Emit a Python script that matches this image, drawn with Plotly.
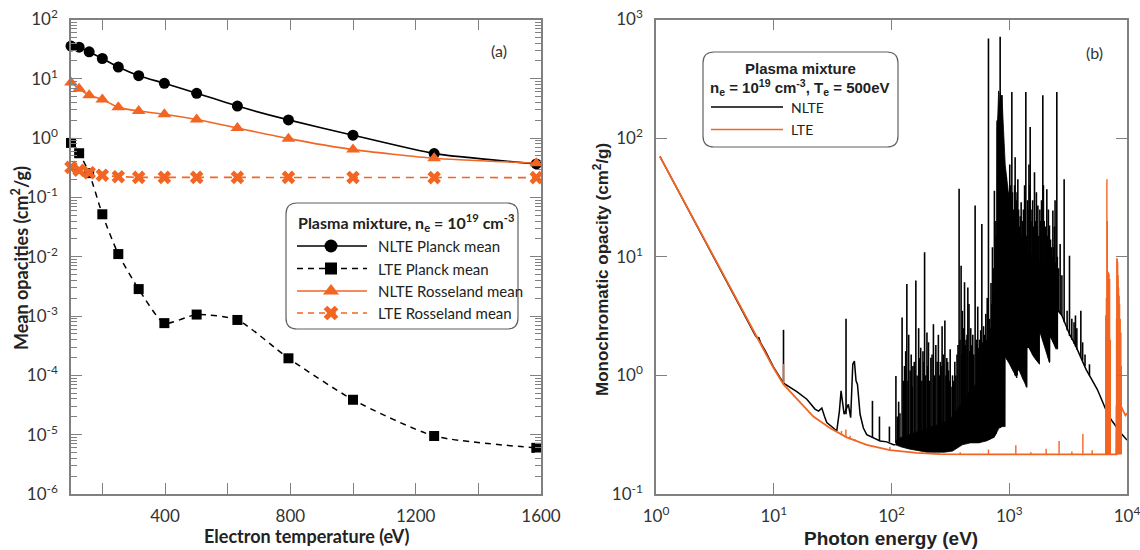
import plotly.graph_objects as go

# ---------------- panel (a): mean opacities vs electron temperature ----------------
T_e = [100, 126, 158, 200, 251, 316, 398, 501, 631, 794, 1000, 1259, 1585]
nlte_planck = [35.6, 34.2, 28.5, 22.0, 15.8, 11.3, 8.4, 5.7, 3.47, 2.03, 1.12, 0.548, 0.368]
lte_planck = [0.83, 0.556, 0.257, 0.052, 0.0111, 0.00285, 7.6e-4, 1.06e-3, 8.6e-4,
              1.94e-4, 3.88e-5, 9.5e-6, 6.0e-6]
nlte_rosseland = [8.7, 6.8, 5.3, 4.5, 3.3, 2.86, 2.53, 2.06, 1.48, 0.98, 0.64, 0.458, 0.378]
lte_rosseland = [0.321, 0.287, 0.261, 0.237, 0.224, 0.218, 0.218, 0.218, 0.218, 0.218,
                 0.217, 0.216, 0.216]

temp_ticks = [400, 800, 1200, 1600]
temp_minor_ticks = [200, 600, 1000, 1400]
mean_ticks = [1e-6, 1e-5, 1e-4, 1e-3, 1e-2, 1e-1, 1, 10, 100]
mean_labels = ["10<sup>-6</sup>", "10<sup>-5</sup>", "10<sup>-4</sup>", "10<sup>-3</sup>",
               "10<sup>-2</sup>", "10<sup>-1</sup>", "10<sup>0</sup>", "10<sup>1</sup>",
               "10<sup>2</sup>"]

# ---------------- panel (b): monochromatic opacity, Te = 500 eV ----------------
# LTE continuum
lte_E = [1.08, 1.6, 2.7, 4.54, 7.4, 9.93, 12.1, 15.7, 21.7, 30, 41.7, 61.6, 97, 164, 259,
         500, 1000, 2000, 4000, 8100, 8150, 8900, 9300, 9700, 10000]
lte_k = [70, 33.9, 12.8, 4.84, 1.95, 1.16, 0.84, 0.63, 0.45, 0.36, 0.30, 0.26, 0.234, 0.222,
         0.217, 0.216, 0.216, 0.216, 0.216, 0.216, 0.55, 0.55, 0.5, 0.46, 0.48]
# LTE lines
lte_line_E = [12.1, 37.6, 41.0, 44.5, 49.0, 97, 383, 666, 1137, 1525, 2058, 2650, 3404, 4220,
              5060,
              6600, 6680, 6750, 6800, 6870, 6950, 7030, 7120, 7220,
              8150, 8200, 8260, 8330, 8400, 8480, 8570, 8650, 8750, 8870, 8950]
lte_line_base = [0.84, 0.315, 0.30, 0.29, 0.28, 0.234, 0.216, 0.216, 0.216, 0.216, 0.216,
                 0.216, 0.216, 0.216, 0.216,
                 0.216, 0.216, 0.216, 0.216, 0.216, 0.216, 0.216, 0.216, 0.216,
                 0.216, 0.216, 0.216, 0.216, 0.216, 0.216, 0.216, 0.216, 0.216, 0.216, 0.216]
lte_line_top = [1.25, 0.34, 0.35, 0.31, 0.29, 0.25, 0.225, 0.237, 0.257, 0.225, 0.241,
                0.28, 0.228, 0.32, 0.234,
                3.2, 4.5, 45, 20, 7.5, 7.4, 7.2, 6.5, 2.0,
                3.0, 9.7, 9.6, 9.0, 7.0, 5.5, 4.7, 4.0, 3.0, 2.3, 1.2]

# NLTE continuum below the line forest
nlte_low_E = [1.08, 1.6, 2.7, 4.54, 7.0, 7.3, 7.45, 7.7, 8.5, 9.93, 12.1, 13.3, 15.7, 19.1,
              22.4, 24.0, 25.6, 27.0, 28.2, 32.1, 34.3, 36.1, 37.3, 38.6, 39.6, 43.0, 45.0,
              46.9, 48.4, 50.0, 51.4, 54.1, 57.7, 61.6, 70, 80, 91, 104, 108]
nlte_low_k = [70, 33.9, 12.8, 4.84, 2.15, 2.05, 2.1, 1.9, 1.6, 1.18, 0.86, 0.81, 0.73, 0.63,
              0.52, 0.5, 0.53, 0.45, 0.40, 0.36, 0.34, 0.50, 0.74, 0.57, 0.47, 0.57, 0.44,
              1.24, 1.32, 0.9, 0.84, 0.47, 0.36, 0.317, 0.297, 0.28, 0.275, 0.26, 0.26]
# NLTE continuum above the forest
nlte_high_E = [2570, 2800, 3000, 3300, 3600, 4000, 4500, 5000, 5600, 6200, 6800, 7500, 8200,
               9000, 10000]
nlte_high_k = [3.6, 3.2, 2.7, 2.15, 1.85, 1.46, 1.12, 0.93, 0.76, 0.6, 0.48, 0.41, 0.36,
               0.32, 0.285]
# densest part of the line forest: lower and upper envelopes
band_E = [108, 120, 140, 170, 200, 240, 280, 330, 400, 470, 550, 640, 700, 740, 770, 782,
          788, 800, 812, 825, 838, 852, 866, 880, 895, 910, 922, 924, 1000, 1100, 1161,
          1165, 1300, 1410, 1413, 1455, 1600, 1770, 1806, 1808, 2000, 2198, 2202, 2400,
          2502, 2506, 2570]
band_lo = [0.26, 0.25, 0.24, 0.23, 0.225, 0.225, 0.225, 0.23, 0.26, 0.27, 0.27, 0.28, 0.29,
           0.30, 0.32, 0.33, 0.34, 0.35, 0.355, 0.36, 0.36, 0.365, 0.37, 0.37, 0.37, 0.37,
           0.37, 1.46, 1.25, 1.05, 0.95, 1.2, 0.95, 0.79, 1.77, 1.75, 1.45, 1.28, 1.24, 2.37,
           1.7, 1.28, 2.15, 1.85, 1.66, 3.6, 3.6]
band_hi = [0.28, 0.3, 0.32, 0.34, 0.36, 0.38, 0.4, 0.45, 0.6, 0.75, 0.9, 1.1, 1.4, 2.0, 3.5,
           8, 120, 160, 250, 180, 240, 200, 230, 170, 140, 90, 60, 60, 30, 20, 16, 16, 13,
           12, 12, 11, 10, 9, 9, 9, 8, 7, 7, 6, 5.5, 5.5, 5]
# NLTE lines
nlte_line_E = [12.1, 41.1, 68.9, 79, 96, 109, 112, 115, 118, 123, 126, 129, 132, 135, 138,
               140, 144, 147, 150, 152, 156, 161, 165, 170, 173, 177, 181, 185, 188, 191,
               195, 200, 203, 206, 211, 216, 221, 227, 232, 238, 244, 250, 255, 260, 264,
               269, 275, 284, 290, 295, 300, 305, 310, 315, 320, 330, 337, 345, 352, 360,
               367, 375, 382, 390, 395, 400, 408, 417, 423, 430, 438, 445, 455, 462, 471,
               480, 490, 500, 513, 525, 540, 550, 560, 572, 585, 595, 605, 618, 632, 640,
               650, 660, 666, 680, 690, 700, 710, 720, 730, 740, 748, 755, 765, 770, 775,
               789, 837, 865, 930, 942, 950, 960, 970, 985, 995, 1010, 1020, 1035, 1052,
               1065, 1080, 1095, 1110, 1122, 1135, 1150, 1165, 1183, 1200, 1220, 1240, 1262,
               1280, 1300, 1320, 1350, 1365, 1383, 1400, 1430, 1440, 1470, 1490, 1506, 1530,
               1560, 1580, 1600, 1620, 1638, 1670, 1700, 1725, 1750, 1780, 1820, 1850, 1880,
               1900, 1928, 1950, 1980, 2020, 2050, 2085, 2110, 2150, 2196, 2240, 2280, 2320,
               2347, 2390, 2420, 2450, 2480, 2535, 2560, 2620, 2705, 2800, 2925, 3100, 3248,
               3400, 3550, 3650, 3750, 4055, 4200, 4400, 4800]
nlte_line_base = [0.86, 0.47, 0.30, 0.28, 0.275, 0.27, 0.26, 0.26, 0.26, 0.26, 0.25, 0.25,
                  0.25, 0.25, 0.25, 0.25, 0.245, 0.245, 0.24, 0.24, 0.24, 0.24, 0.235, 0.235,
                  0.235, 0.235, 0.23, 0.23, 0.23, 0.23, 0.23, 0.23, 0.23, 0.23, 0.23, 0.23,
                  0.23, 0.23, 0.23, 0.23, 0.23, 0.23, 0.23, 0.23, 0.23, 0.23, 0.23, 0.23,
                  0.23, 0.23, 0.23, 0.23, 0.23, 0.23, 0.23, 0.24, 0.24, 0.25, 0.25, 0.25,
                  0.26, 0.26, 0.26, 0.26, 0.27, 0.27, 0.27, 0.27, 0.27, 0.27, 0.27, 0.27,
                  0.27, 0.27, 0.27, 0.27, 0.27, 0.27, 0.27, 0.27, 0.27, 0.27, 0.27, 0.28,
                  0.28, 0.28, 0.28, 0.28, 0.28, 0.28, 0.29, 0.29, 0.29, 0.29, 0.29, 0.30,
                  0.30, 0.30, 0.30, 0.30, 0.31, 0.31, 0.32, 0.32, 0.33, 0.35, 0.36, 0.37,
                  1.4, 1.4, 1.4, 1.35, 1.35, 1.3, 1.3, 1.3, 1.25, 1.2, 1.15, 1.15, 1.1, 1.1,
                  1.05, 1.0, 1.0, 1.0, 1.0, 1.1, 1.1, 1.15, 1.1, 1.05, 1.0, 0.95, 0.92, 0.9,
                  0.88, 0.85, 0.8, 1.7, 1.7, 1.7, 1.68, 1.65, 1.6, 1.55, 1.5, 1.5, 1.47, 1.45,
                  1.4, 1.35, 1.33, 1.3, 1.27, 2.3, 2.3, 2.2, 2.1, 2.0, 2.0, 1.9, 1.8, 1.7,
                  1.6, 1.55, 1.4, 1.3, 2.1, 2.1, 2.0, 1.9, 1.85, 1.8, 1.75, 1.7, 1.7, 1.66,
                  3.4, 3.3, 3.2, 2.8, 2.4, 2.15, 2.0, 1.85, 1.75, 1.65, 1.42, 1.33, 1.2, 1.0]
nlte_line_top = [2.42, 3.0, 0.61, 0.45, 0.37, 0.99, 0.45, 0.6, 0.48, 3.07, 0.9, 1.2, 1.6,
                 5.9, 0.9, 2.2, 1.1, 1.5, 0.8, 1.2, 1.3, 6.3, 1.0, 2.5, 1.4, 1.71, 0.9, 1.6,
                 1.3, 10.9, 1.0, 2.3, 1.2, 1.9, 0.9, 1.41, 1.5, 2.7, 1.0, 1.8, 1.3, 2.2, 1.0,
                 1.3, 1.2, 2.6, 1.5, 2.9, 1.0, 1.4, 1.3, 1.1, 0.9, 1.66, 0.8, 1.0, 0.9, 1.3,
                 1.0, 1.5, 1.8, 37.4, 2.0, 8.4, 1.5, 3.5, 2.5, 6.1, 1.8, 2.0, 2.2, 5.5, 4.0,
                 1.6, 2.5, 1.8, 2.2, 1.5, 27, 2.0, 3.8, 1.7, 2.0, 2.4, 18.9, 1.9, 2.6, 2.2,
                 3.3, 2.0, 4.5, 2.8, 690, 3.0, 2.5, 6, 4, 12, 5, 8, 36, 10, 6, 20, 15, 141,
                 714, 230, 25, 47, 40, 30, 22, 19.5, 35, 60, 40, 30, 245, 35, 25, 20, 40, 69,
                 25, 30, 35, 45, 25, 18, 22, 28.8, 15, 20, 25, 40, 30, 245, 15, 30, 25, 60,
                 40, 124, 20, 25, 30, 18, 15, 51.6, 20, 35, 18, 27, 15, 25, 20, 30, 12, 230,
                 40, 20, 18, 15, 37, 15, 25, 18.3, 14, 12, 10, 24.5, 12, 18, 30, 9, 245, 10,
                 8, 12.8, 7, 45, 3.5, 10.2, 3.0, 2.8, 3.2, 2.5, 3.5, 1.9, 1.5, 1.24]

photon_ticks = [1, 10, 100, 1000, 10000]
photon_labels = ["10<sup>0</sup>", "10<sup>1</sup>", "10<sup>2</sup>", "10<sup>3</sup>",
                 "10<sup>4</sup>"]
mono_ticks = [0.1, 1, 10, 100, 1000]
mono_labels = ["10<sup>-1</sup>", "10<sup>0</sup>", "10<sup>1</sup>", "10<sup>2</sup>",
               "10<sup>3</sup>"]

ORANGE = "#F26522"
AXIS_GREY = "#808080"
TICK_FONT = dict(family="Lato, Noto Sans, sans-serif", size=17, color="#333333")

W, H = 1140, 550


def px_x(p):
    return p / W


def px_y(p):
    return 1 - p / H


def vertical_segments(E, base, top):
    xs, ys = [], []
    for e, b, t in zip(E, base, top):
        xs += [e, e, None]
        ys += [b, t, None]
    return xs, ys


fig = go.Figure()

# ---- panel (a) curves (markers at the frame edges stay whole) ----
fig.add_trace(go.Scatter(
    x=T_e, y=nlte_planck, mode="lines+markers", name="NLTE Planck mean", cliponaxis=False,
    line=dict(color="black", width=1.6, shape="spline", smoothing=0.5),
    marker=dict(symbol="circle", size=11, color="black"), xaxis="x", yaxis="y"))
fig.add_trace(go.Scatter(
    x=T_e, y=lte_planck, mode="lines+markers", name="LTE Planck mean", cliponaxis=False,
    line=dict(color="black", width=1.5, dash="6px,5px", shape="spline", smoothing=0.6),
    marker=dict(symbol="square", size=10, color="black"), xaxis="x", yaxis="y"))
fig.add_trace(go.Scatter(
    x=T_e, y=nlte_rosseland, mode="lines+markers", name="NLTE Rosseland mean",
    cliponaxis=False,
    line=dict(color=ORANGE, width=1.6, shape="spline", smoothing=0.5),
    marker=dict(symbol="triangle-up", size=12, color=ORANGE), xaxis="x", yaxis="y"))
fig.add_trace(go.Scatter(
    x=T_e, y=lte_rosseland, mode="lines+markers", name="LTE Rosseland mean",
    cliponaxis=False,
    line=dict(color=ORANGE, width=1.6, dash="8px,6px"),
    marker=dict(symbol="x", size=12, color=ORANGE), xaxis="x", yaxis="y"))

# ---- panel (b) spectra ----
fig.add_trace(go.Scatter(
    x=band_E + band_E[::-1], y=band_lo + band_hi[::-1], mode="lines", fill="toself",
    fillcolor="black", line=dict(color="black", width=0.8), xaxis="x2", yaxis="y2",
    hoverinfo="skip"))
fig.add_trace(go.Scatter(
    x=nlte_low_E, y=nlte_low_k, mode="lines", name="NLTE",
    line=dict(color="black", width=1.5), xaxis="x2", yaxis="y2"))
fig.add_trace(go.Scatter(
    x=nlte_high_E, y=nlte_high_k, mode="lines", name="NLTE",
    line=dict(color="black", width=1.5), xaxis="x2", yaxis="y2"))
sx, sy = vertical_segments(nlte_line_E, nlte_line_base, nlte_line_top)
fig.add_trace(go.Scatter(
    x=sx, y=sy, mode="lines", name="NLTE lines", connectgaps=False,
    line=dict(color="black", width=1.6), xaxis="x2", yaxis="y2"))
fig.add_trace(go.Scatter(
    x=lte_E, y=lte_k, mode="lines", name="LTE",
    line=dict(color=ORANGE, width=1.8), xaxis="x2", yaxis="y2"))
lx, ly = vertical_segments(lte_line_E, lte_line_base, lte_line_top)
fig.add_trace(go.Scatter(
    x=lx, y=ly, mode="lines", name="LTE lines", connectgaps=False,
    line=dict(color=ORANGE, width=1.4), xaxis="x2", yaxis="y2"))

# ---- legend keys, drawn in pixel-scaled helper axes ----
LEG_A = dict(x0=281, x1=523, y0=198, y1=334)
LEG_B = dict(x0=698, x1=903, y0=47, y1=152)

key_rows_a = [246, 268.5, 291, 313]
key_styles_a = [
    (dict(color="black", width=1.6), dict(symbol="circle", size=13, color="black")),
    (dict(color="black", width=1.5, dash="6px,5px"), dict(symbol="square", size=12, color="black")),
    (dict(color=ORANGE, width=1.6), dict(symbol="triangle-up", size=14, color=ORANGE)),
    (dict(color=ORANGE, width=1.6, dash="6px,5px"), dict(symbol="x", size=13, color=ORANGE)),
]
key_names_a = ["NLTE Planck mean", "LTE Planck mean", "NLTE Rosseland mean", "LTE Rosseland mean"]
for yk, (ln, mk) in zip(key_rows_a, key_styles_a):
    fig.add_trace(go.Scatter(x=[297, 367], y=[yk, yk], mode="lines", line=ln,
                             xaxis="x3", yaxis="y3", hoverinfo="skip"))
    fig.add_trace(go.Scatter(x=[331], y=[yk], mode="markers", marker=mk,
                             xaxis="x3", yaxis="y3", hoverinfo="skip"))

key_rows_b = [107, 129.5]
key_colors_b = ["black", ORANGE]
key_names_b = ["NLTE", "LTE"]
for yk, c in zip(key_rows_b, key_colors_b):
    fig.add_trace(go.Scatter(x=[711, 783], y=[yk, yk], mode="lines",
                             line=dict(color=c, width=1.6),
                             xaxis="x4", yaxis="y4", hoverinfo="skip"))


def rounded_box(x0, y0, x1, y1, r):
    return (f"M {x0+r},{y0} L {x1-r},{y0} Q {x1},{y0} {x1},{y0+r} "
            f"L {x1},{y1-r} Q {x1},{y1} {x1-r},{y1} L {x0+r},{y1} "
            f"Q {x0},{y1} {x0},{y1-r} L {x0},{y0+r} Q {x0},{y0} {x0+r},{y0} Z")


shapes = [
    dict(type="path", path=rounded_box(286, 203, 518, 329, 11), xref="x3", yref="y3",
         line=dict(color="#606060", width=1.2), fillcolor="white", layer="below"),
    dict(type="path", path=rounded_box(703, 52, 898, 147, 11), xref="x4", yref="y4",
         line=dict(color="#606060", width=1.2), fillcolor="white", layer="below"),
]

LEG_FONT = dict(family="Lato, Noto Sans, sans-serif", size=15, color="#222222")
annotations = [
    dict(x=296, y=222, xref="x3", yref="y3", xanchor="left", yanchor="middle",
         showarrow=False,
         text="<b>Plasma mixture, n<sub>e</sub> = 10<sup>19</sup> cm<sup>-3</sup></b>",
         font=dict(family="Lato, Noto Sans, sans-serif", size=16, color="#222222")),
]
for yk, nm in zip(key_rows_a, key_names_a):
    annotations.append(dict(x=376, y=yk, xref="x3", yref="y3", xanchor="left",
                            yanchor="middle", showarrow=False, text=nm, font=LEG_FONT))
annotations += [
    dict(x=800, y=68, xref="x4", yref="y4", xanchor="center", yanchor="middle",
         showarrow=False, text="<b>Plasma mixture</b>",
         font=dict(family="Liberation Sans, Arial, sans-serif", size=15, color="#222222")),
    dict(x=800, y=87, xref="x4", yref="y4", xanchor="center", yanchor="middle",
         showarrow=False,
         text="<b>n<sub>e</sub> = 10<sup>19</sup> cm<sup>-3</sup>, T<sub>e</sub> = 500eV</b>",
         font=dict(family="Liberation Sans, Arial, sans-serif", size=15, color="#222222")),
]
for yk, nm in zip(key_rows_b, key_names_b):
    annotations.append(dict(x=789, y=yk, xref="x4", yref="y4", xanchor="left",
                            yanchor="middle", showarrow=False, text=nm,
                            font=dict(family="Lato, Noto Sans, sans-serif", size=14,
                                      color="#222222")))


def paper_text(xp, yp, text, font, angle=0):
    return dict(x=px_x(xp), y=px_y(yp), xref="paper", yref="paper", showarrow=False,
                xanchor="center", yanchor="middle", text=text, font=font,
                textangle=angle)


# panel tags and axis titles
annotations += [
    paper_text(499, 50, "(a)", dict(family="Lato, Noto Sans, sans-serif", size=16,
                                    color="#333333")),
    paper_text(1094, 53, "(b)", dict(family="Lato, Noto Sans, sans-serif", size=16,
                                     color="#333333")),
    paper_text(306, 536, "<b>Electron temperature (eV)</b>",
               dict(family="Lato, Noto Sans, sans-serif", size=18, color="#222222")),
    paper_text(20, 258, "<b>Mean opacities (cm<sup>2</sup>/g)</b>",
               dict(family="Lato, Noto Sans, sans-serif", size=18, color="#222222"), -90),
    paper_text(891, 538, "<b>Photon energy (eV)</b>",
               dict(family="Liberation Sans, Arial, sans-serif", size=19, color="#222222")),
    paper_text(601, 270, "<b>Monochromatic opacity (cm<sup>2</sup>/g)</b>",
               dict(family="Liberation Sans, Arial, sans-serif", size=17, color="#222222"),
               -90),
]

TOP, BOTTOM = 19.5, 494
axis_common = dict(showline=True, linecolor=AXIS_GREY, linewidth=1.5, mirror="ticks",
                   ticks="inside", tickcolor=AXIS_GREY, tickwidth=1.3, ticklen=11,
                   showgrid=False, zeroline=False, tickfont=TICK_FONT, fixedrange=True,
                   automargin=False, ticklabeloverflow="allow")

hidden = dict(visible=False, showgrid=False, zeroline=False, fixedrange=True,
              automargin=False)

fig.update_layout(
    width=W, height=H, margin=dict(l=0, r=0, t=0, b=0, autoexpand=False),
    paper_bgcolor="white", plot_bgcolor="rgba(0,0,0,0)", showlegend=False,
    xaxis=dict(domain=[px_x(71), px_x(541)], range=[100, 1600], anchor="y",
               tickmode="array", tickvals=temp_ticks,
               minor=dict(tickmode="array", tickvals=temp_minor_ticks, ticks="inside",
                          ticklen=11, tickcolor=AXIS_GREY, tickwidth=1.3, showgrid=False),
               ticklabelstandoff=6, **axis_common),
    yaxis=dict(domain=[px_y(BOTTOM), px_y(TOP)], type="log", range=[-6, 2], anchor="x",
               tickmode="array", tickvals=mean_ticks, ticktext=mean_labels,
               ticklabelstandoff=8,
               minor=dict(ticks="inside", ticklen=6, tickcolor=AXIS_GREY, tickwidth=1,
                          dtick="D1", showgrid=False),
               **axis_common),
    xaxis2=dict(domain=[px_x(656), px_x(1127)], type="log", range=[0, 4], anchor="y2",
                tickmode="array", tickvals=photon_ticks, ticktext=photon_labels,
                ticklabelstandoff=6, **axis_common),
    yaxis2=dict(domain=[px_y(BOTTOM), px_y(TOP)], type="log", range=[-1, 3], anchor="x2",
                tickmode="array", tickvals=mono_ticks, ticktext=mono_labels,
                ticklabelstandoff=8, **axis_common),
    xaxis3=dict(domain=[px_x(LEG_A["x0"]), px_x(LEG_A["x1"])],
                range=[LEG_A["x0"], LEG_A["x1"]], anchor="y3", **hidden),
    yaxis3=dict(domain=[px_y(LEG_A["y1"]), px_y(LEG_A["y0"])],
                range=[LEG_A["y1"], LEG_A["y0"]], anchor="x3", **hidden),
    xaxis4=dict(domain=[px_x(LEG_B["x0"]), px_x(LEG_B["x1"])],
                range=[LEG_B["x0"], LEG_B["x1"]], anchor="y4", **hidden),
    yaxis4=dict(domain=[px_y(LEG_B["y1"]), px_y(LEG_B["y0"])],
                range=[LEG_B["y1"], LEG_B["y0"]], anchor="x4", **hidden),
    shapes=shapes, annotations=annotations,
)

fig.write_html("out.html")
